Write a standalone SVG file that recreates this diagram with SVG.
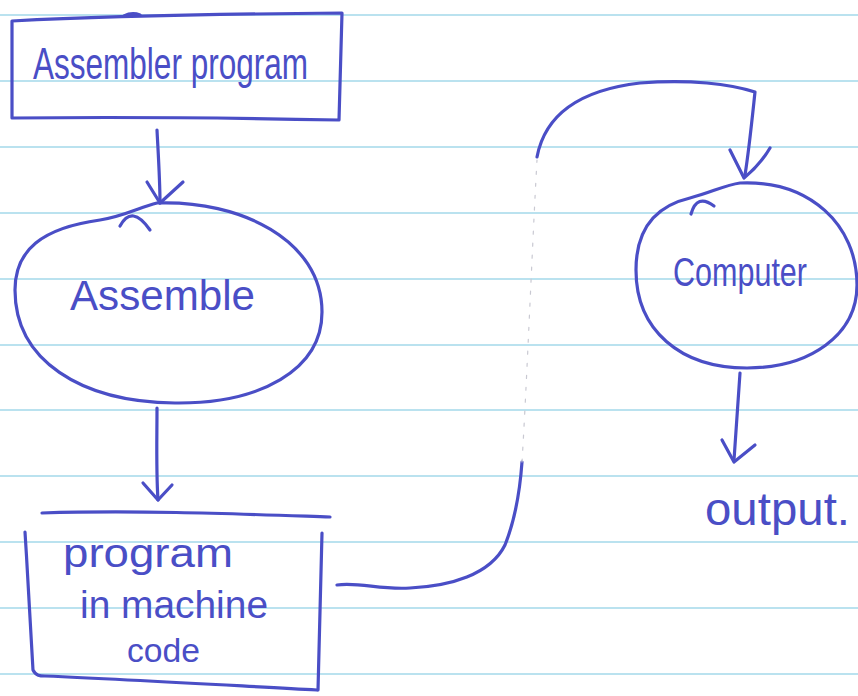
<svg xmlns="http://www.w3.org/2000/svg" width="858" height="696" viewBox="0 0 858 696">
  <style>
    .rule { stroke: #a3d8ea; stroke-width: 1.6; }
    .ink { fill: none; stroke: #4a4ec6; stroke-width: 3.2; stroke-linecap: round; stroke-linejoin: round; }
    .faint { fill: none; stroke: #c9c9d2; stroke-width: 1.2; stroke-dasharray: 3 9; stroke-linecap: round; }
    .label { fill: #4a4ec6; font-family: "Liberation Sans", "DejaVu Sans", sans-serif; }
  </style>

  <!-- lined paper -->
  <rect x="0" y="0" width="858" height="696" fill="#ffffff"/>
  <g id="paper-rules">
    <line class="rule" x1="0" y1="15" x2="858" y2="15"/>
    <line class="rule" x1="0" y1="81" x2="858" y2="81"/>
    <line class="rule" x1="0" y1="147" x2="858" y2="147"/>
    <line class="rule" x1="0" y1="213" x2="858" y2="213"/>
    <line class="rule" x1="0" y1="279" x2="858" y2="279"/>
    <line class="rule" x1="0" y1="345" x2="858" y2="345"/>
    <line class="rule" x1="0" y1="410" x2="858" y2="410"/>
    <line class="rule" x1="0" y1="476" x2="858" y2="476"/>
    <line class="rule" x1="0" y1="542" x2="858" y2="542"/>
    <line class="rule" x1="0" y1="608" x2="858" y2="608"/>
    <line class="rule" x1="0" y1="674" x2="858" y2="674"/>
  </g>

  <!-- source program box -->
  <g id="assembler-program">
    <path class="ink" d="M12,21 C90,17 220,14 342,13 L339,120 C240,118 100,117 12,118 Z"/>
    <path class="ink" d="M124,16 Q132,12 140,15"/>
    <text class="label" x="33" y="79" font-size="44" textLength="275" lengthAdjust="spacingAndGlyphs">Assembler program</text>
  </g>

  <!-- assembler step -->
  <g id="assemble">
    <path class="ink" d="M157,203 C240,200 322,240 322,312 C322,370 260,404 175,403 C80,402 15,360 15,290 C15,250 42,228 100,220 C125,216 140,207 157,203 Z"/>
    <path class="ink" d="M120,226 Q132,204 150,230"/>
    <text class="label" x="70" y="310" font-size="42" textLength="185" lengthAdjust="spacingAndGlyphs">Assemble</text>
  </g>

  <!-- machine code box -->
  <g id="machine-code">
    <path class="ink" d="M42,513 C140,510 240,514 330,517"/>
    <path class="ink" d="M25,532 C28,580 31,630 33,670 C36,676 40,676 45,676 C140,680 240,686 317,690"/>
    <path class="ink" d="M322,533 C321,590 319,640 318,690"/>
    <text class="label" x="63" y="567" font-size="40" textLength="170" lengthAdjust="spacingAndGlyphs">program</text>
    <text class="label" x="80" y="618" font-size="38" textLength="188" lengthAdjust="spacingAndGlyphs">in machine</text>
    <text class="label" x="127" y="662" font-size="34" textLength="73" lengthAdjust="spacingAndGlyphs">code</text>
  </g>

  <!-- computer -->
  <g id="computer">
    <path class="ink" d="M740,183 C810,180 857,225 857,285 C857,335 810,368 747,368 C680,368 636,330 636,270 C636,225 660,205 690,198 C710,193 725,185 740,183 Z"/>
    <path class="ink" d="M691,214 Q697,193 714,206"/>
    <text class="label" x="673" y="286" font-size="40" textLength="134" lengthAdjust="spacingAndGlyphs">Computer</text>
  </g>

  <!-- result -->
  <g id="output">
    <text class="label" x="705" y="525" font-size="46" textLength="145" lengthAdjust="spacingAndGlyphs">output.</text>
  </g>

  <!-- connectors -->
  <g id="connectors">
    <path class="ink" d="M157,130 C158,150 160,180 160,203"/>
    <path class="ink" d="M147,182 L160,203 L183,182"/>

    <path class="ink" d="M157,408 C157,440 156,470 158,500"/>
    <path class="ink" d="M143,483 L158,500 L172,485"/>

    <path class="ink" d="M337,585 C360,582 380,590 410,588 C450,586 490,575 505,545 C515,520 520,490 522,462"/>
    <path class="faint" d="M522,462 C527,380 532,250 537,160"/>
    <path class="ink" d="M537,157 C545,115 580,90 640,83 C690,79 730,84 755,92 C752,120 749,150 745,175"/>
    <path class="ink" d="M730,150 L744,178 Q760,165 770,148"/>

    <path class="ink" d="M740,373 C738,400 736,430 734,460"/>
    <path class="ink" d="M722,440 L734,462 L755,445"/>
  </g>
</svg>
